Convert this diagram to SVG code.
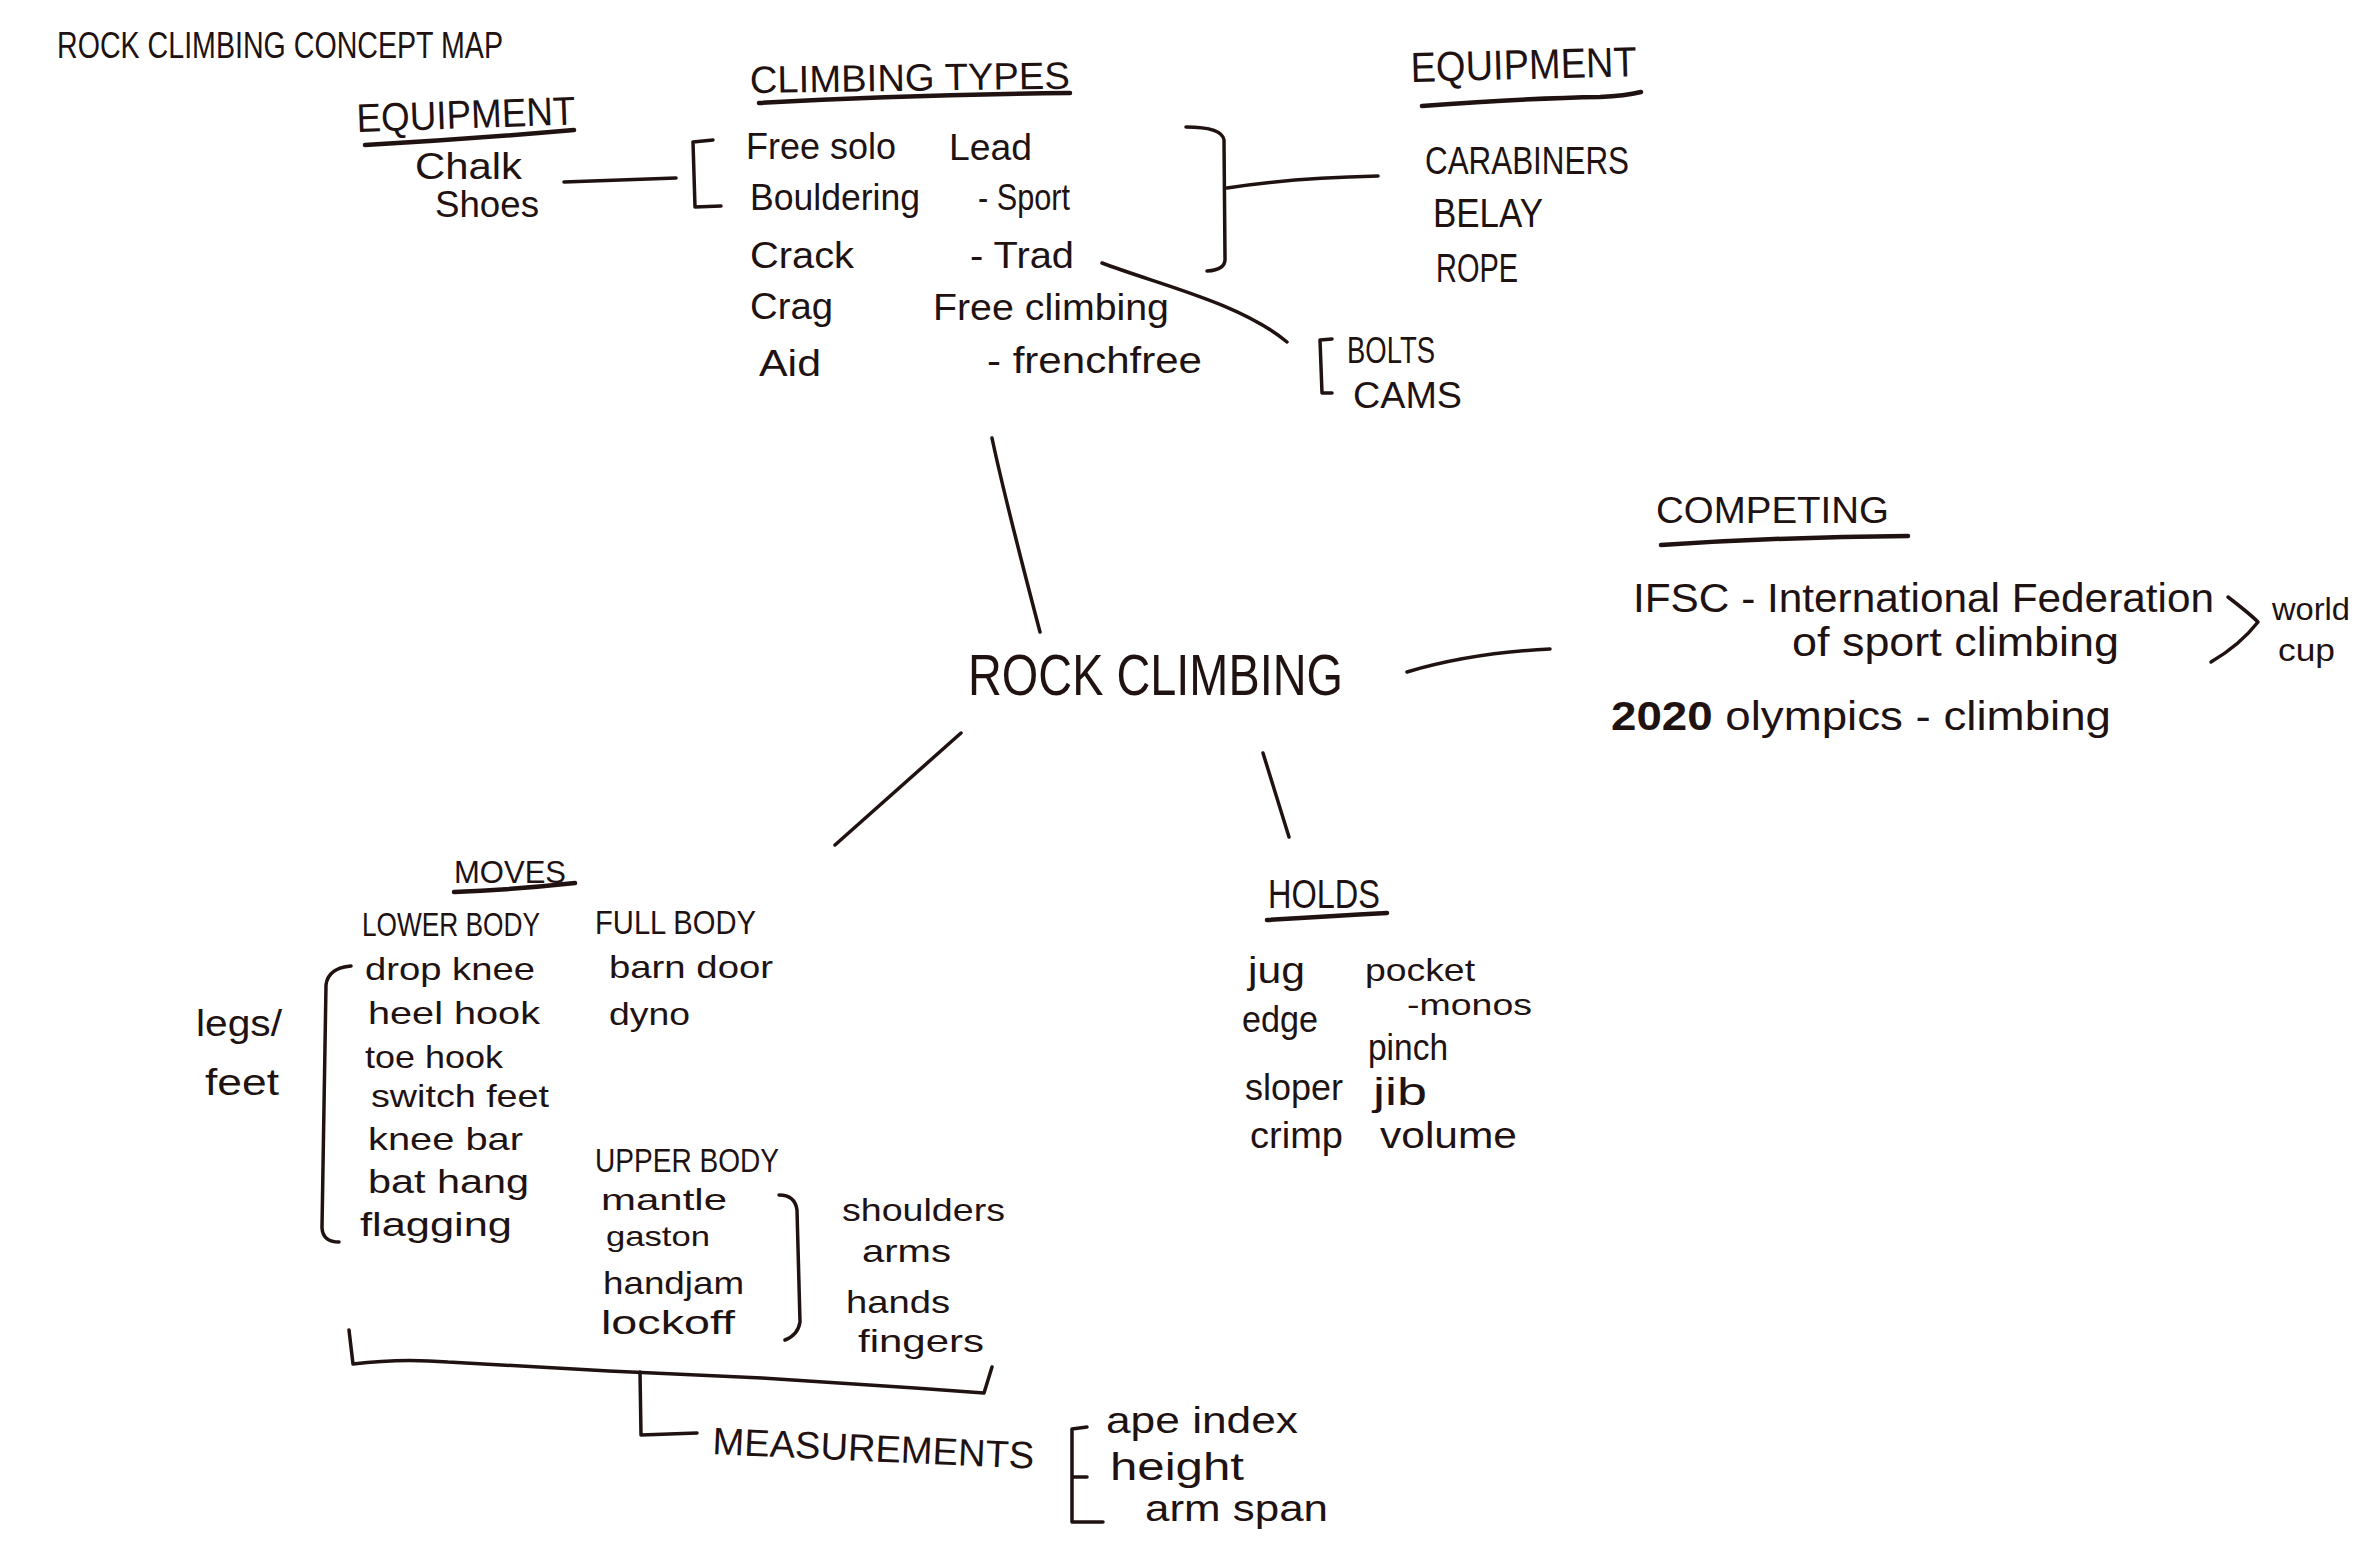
<svg xmlns="http://www.w3.org/2000/svg" width="2372" height="1541" viewBox="0 0 2372 1541">
<style>
text{font-family:"Liberation Sans","DejaVu Sans",sans-serif;fill:#211212;}
.l{fill:none;stroke:#211212;stroke-width:3.5;stroke-linecap:round;stroke-linejoin:round;}
.u{fill:none;stroke:#211212;stroke-width:4.5;stroke-linecap:round;}
.s28{font-size:28px}.s30{font-size:30px}.s32{font-size:32px}.s34{font-size:34px}.s36{font-size:36px}.s38{font-size:38px}.s40{font-size:40px}.s42{font-size:42px}
</style>
<rect width="2372" height="1541" fill="#ffffff"/>
<g id="title"><text class="s36" x="57" y="58" textLength="446" lengthAdjust="spacingAndGlyphs">ROCK CLIMBING CONCEPT MAP</text></g>
<g id="climbing-types">
<text class="s38" x="750" y="93" textLength="320" lengthAdjust="spacingAndGlyphs" transform="rotate(-0.8 750 93)">CLIMBING TYPES</text>
<path class="u" d="M759,103 Q900,95 1070,93"/>
<text class="s36" x="746" y="159" textLength="150" lengthAdjust="spacingAndGlyphs">Free solo</text>
<text class="s36" x="949" y="160" textLength="83" lengthAdjust="spacingAndGlyphs">Lead</text>
<text class="s36" x="750" y="210" textLength="170" lengthAdjust="spacingAndGlyphs">Bouldering</text>
<text class="s36" x="978" y="210" textLength="92" lengthAdjust="spacingAndGlyphs">- Sport</text>
<text class="s36" x="750" y="268" textLength="104" lengthAdjust="spacingAndGlyphs">Crack</text>
<text class="s36" x="970" y="268" textLength="104" lengthAdjust="spacingAndGlyphs">- Trad</text>
<text class="s36" x="750" y="319" textLength="83" lengthAdjust="spacingAndGlyphs">Crag</text>
<text class="s36" x="933" y="320" textLength="236" lengthAdjust="spacingAndGlyphs">Free climbing</text>
<text class="s36" x="759" y="376" textLength="62" lengthAdjust="spacingAndGlyphs">Aid</text>
<text class="s36" x="987" y="373" textLength="215" lengthAdjust="spacingAndGlyphs">- frenchfree</text>
</g>
<g id="equipment-left">
<text class="s40" x="357" y="132" textLength="219" lengthAdjust="spacingAndGlyphs" transform="rotate(-2 357 132)">EQUIPMENT</text>
<path class="u" d="M365,145 Q470,139 574,130"/>
<text class="s36" x="415" y="179" textLength="107" lengthAdjust="spacingAndGlyphs">Chalk</text>
<text class="s36" x="435" y="217" textLength="104" lengthAdjust="spacingAndGlyphs">Shoes</text>
</g>
<g id="equipment-right">
<text class="s42" x="1411" y="82" textLength="226" lengthAdjust="spacingAndGlyphs" transform="rotate(-1.5 1411 82)">EQUIPMENT</text>
<path class="u" d="M1422,106 Q1530,98 1600,97 Q1625,96 1641,92"/>
<text class="s38" x="1425" y="174" textLength="204" lengthAdjust="spacingAndGlyphs">CARABINERS</text>
<text class="s40" x="1433" y="227" textLength="110" lengthAdjust="spacingAndGlyphs">BELAY</text>
<text class="s40" x="1436" y="282" textLength="82" lengthAdjust="spacingAndGlyphs">ROPE</text>
</g>
<g id="bolts-cams">
<text class="s36" x="1347" y="363" textLength="88" lengthAdjust="spacingAndGlyphs">BOLTS</text>
<text class="s36" x="1353" y="408" textLength="109" lengthAdjust="spacingAndGlyphs">CAMS</text>
</g>
<g id="rock-climbing"><text x="968" y="695" font-size="58" textLength="375" lengthAdjust="spacingAndGlyphs">ROCK CLIMBING</text></g>
<g id="competing">
<text class="s36" x="1656" y="523" textLength="233" lengthAdjust="spacingAndGlyphs">COMPETING</text>
<path class="u" d="M1661,545 Q1780,537 1908,536"/>
<text class="s40" x="1633" y="612" textLength="581" lengthAdjust="spacingAndGlyphs">IFSC - International Federation</text>
<text class="s40" x="1792" y="656" textLength="327" lengthAdjust="spacingAndGlyphs">of sport climbing</text>
<text class="s32" x="2272" y="620" textLength="78" lengthAdjust="spacingAndGlyphs">world</text>
<text class="s32" x="2278" y="661" textLength="57" lengthAdjust="spacingAndGlyphs">cup</text>
<text class="s40" x="1611" y="730" textLength="500" lengthAdjust="spacingAndGlyphs"><tspan font-weight="bold">2020</tspan> olympics - climbing</text>
</g>
<g id="moves">
<text class="s32" x="454" y="883" textLength="112" lengthAdjust="spacingAndGlyphs">MOVES</text>
<path class="u" d="M454,892 Q510,890 575,883"/>
<text class="s34" x="362" y="936" textLength="178" lengthAdjust="spacingAndGlyphs">LOWER BODY</text>
<text class="s34" x="595" y="934" textLength="161" lengthAdjust="spacingAndGlyphs">FULL BODY</text>
<text class="s32" x="365" y="980" textLength="170" lengthAdjust="spacingAndGlyphs">drop knee</text>
<text class="s32" x="368" y="1024" textLength="172" lengthAdjust="spacingAndGlyphs">heel hook</text>
<text class="s32" x="365" y="1068" textLength="138" lengthAdjust="spacingAndGlyphs">toe hook</text>
<text class="s32" x="371" y="1107" textLength="178" lengthAdjust="spacingAndGlyphs">switch feet</text>
<text class="s32" x="368" y="1150" textLength="155" lengthAdjust="spacingAndGlyphs">knee bar</text>
<text class="s34" x="368" y="1193" textLength="161" lengthAdjust="spacingAndGlyphs">bat hang</text>
<text class="s34" x="360" y="1236" textLength="152" lengthAdjust="spacingAndGlyphs">flagging</text>
<text class="s32" x="609" y="978" textLength="164" lengthAdjust="spacingAndGlyphs">barn door</text>
<text class="s32" x="609" y="1025" textLength="81" lengthAdjust="spacingAndGlyphs">dyno</text>
<text class="s34" x="595" y="1172" textLength="184" lengthAdjust="spacingAndGlyphs">UPPER BODY</text>
<text class="s30" x="601" y="1210" textLength="126" lengthAdjust="spacingAndGlyphs">mantle</text>
<text class="s28" x="606" y="1246" textLength="104" lengthAdjust="spacingAndGlyphs">gaston</text>
<text class="s32" x="603" y="1294" textLength="141" lengthAdjust="spacingAndGlyphs">handjam</text>
<text class="s34" x="601" y="1334" textLength="134" lengthAdjust="spacingAndGlyphs">lockoff</text>
<text class="s32" x="842" y="1221" textLength="163" lengthAdjust="spacingAndGlyphs">shoulders</text>
<text class="s32" x="862" y="1262" textLength="89" lengthAdjust="spacingAndGlyphs">arms</text>
<text class="s32" x="846" y="1313" textLength="104" lengthAdjust="spacingAndGlyphs">hands</text>
<text class="s32" x="858" y="1352" textLength="126" lengthAdjust="spacingAndGlyphs">fingers</text>
<text class="s36" x="196" y="1036" textLength="86" lengthAdjust="spacingAndGlyphs">legs/</text>
<text class="s36" x="205" y="1095" textLength="74" lengthAdjust="spacingAndGlyphs">feet</text>
</g>
<g id="holds">
<text class="s40" x="1268" y="908" textLength="112" lengthAdjust="spacingAndGlyphs">HOLDS</text>
<path class="u" d="M1267,920 Q1330,916 1387,913"/>
<text class="s36" x="1248" y="983" textLength="57" lengthAdjust="spacingAndGlyphs">jug</text>
<text class="s32" x="1365" y="981" textLength="110" lengthAdjust="spacingAndGlyphs">pocket</text>
<text class="s30" x="1407" y="1015" textLength="125" lengthAdjust="spacingAndGlyphs">-monos</text>
<text class="s36" x="1242" y="1032" textLength="76" lengthAdjust="spacingAndGlyphs">edge</text>
<text class="s36" x="1368" y="1060" textLength="80" lengthAdjust="spacingAndGlyphs">pinch</text>
<text class="s36" x="1245" y="1100" textLength="98" lengthAdjust="spacingAndGlyphs">sloper</text>
<text class="s38" x="1373" y="1105" textLength="54" lengthAdjust="spacingAndGlyphs">jib</text>
<text class="s36" x="1250" y="1148" textLength="93" lengthAdjust="spacingAndGlyphs">crimp</text>
<text class="s36" x="1380" y="1148" textLength="137" lengthAdjust="spacingAndGlyphs">volume</text>
</g>
<g id="measurements">
<text class="s38" x="712" y="1454" textLength="322" lengthAdjust="spacingAndGlyphs" transform="rotate(2.6 712 1454)">MEASUREMENTS</text>
<text class="s36" x="1106" y="1433" textLength="192" lengthAdjust="spacingAndGlyphs">ape index</text>
<text class="s38" x="1110" y="1480" textLength="134" lengthAdjust="spacingAndGlyphs">height</text>
<text class="s36" x="1145" y="1521" textLength="183" lengthAdjust="spacingAndGlyphs">arm span</text>
</g>
<g id="connectors">
<path class="l" d="M564,182 L676,178"/>
<path class="l" d="M713,140 L693,142 L695,207 L721,206"/>
<path class="l" d="M1186,127 Q1222,127 1224,140 L1225,258 Q1226,270 1207,271"/>
<path class="l" d="M1227,188 Q1290,178 1378,176"/>
<path class="l" d="M1102,263 C1160,285 1240,303 1287,342"/>
<path class="l" d="M1332,339 L1320,340 L1322,393 L1332,393"/>
<path class="l" d="M992,438 Q1004,495 1040,632"/>
<path class="l" d="M1407,672 Q1470,653 1550,649"/>
<path class="l" d="M961,733 Q905,783 835,845"/>
<path class="l" d="M1263,753 L1289,837"/>
<path class="l" d="M2228,597 Q2250,614 2258,622 Q2240,645 2211,662"/>
<path class="l" d="M351,966 Q328,968 326,985 L322,1228 Q323,1242 339,1242"/>
<path class="l" d="M779,1195 Q795,1195 797,1210 L800,1322 Q798,1335 785,1340"/>
<path class="l" d="M349,1330 L353,1364 Q400,1358 448,1362 L609,1371 L762,1378 L915,1388 L984,1393 L992,1367"/>
<path class="l" d="M640,1372 L641,1435 L697,1433"/>
<path class="l" d="M1087,1427 L1072,1429 L1072,1522 L1103,1522 M1072,1477 L1087,1477"/>
</g>
</svg>
